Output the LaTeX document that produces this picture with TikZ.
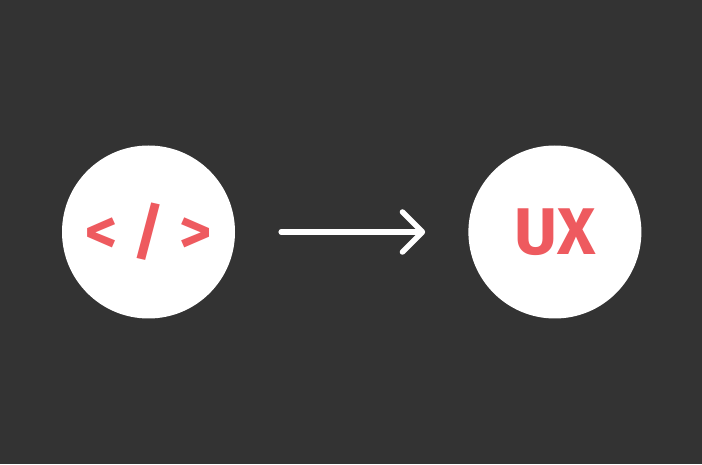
\documentclass[tikz,border=0pt]{standalone}
\usepackage{fontspec}
\setsansfont{Fira Sans}
\usepackage{tikz}
\usetikzlibrary{arrows.meta, positioning}

\definecolor{bgdark}{HTML}{333333}
\definecolor{codered}{HTML}{EE5A5F}

\begin{document}
\begin{tikzpicture}[
    x=1pt, y=1pt,
    node distance=233pt,
    disc/.style={circle, fill=white, minimum size=173pt, inner sep=0pt,
    text=codered, font=\sffamily\bfseries\fontsize{62}{62}\selectfont},
    arrow/.style={-{Straight Barb[length=20pt, width=40pt, round]},
    white, line width=5.5pt, line cap=round, shorten >=43pt,
    shorten <=46pt} ]

    % Background
    \fill[bgdark] (0,0) rectangle (702,464);
    \useasboundingbox (0,0) rectangle (702,464);

    % Nodes for the two circles
    \node[disc] (code) at (148.5,232) {< / >};
    \node[disc, right=of code,
    font=\sffamily\bfseries\fontsize{66}{66}\selectfont] (ux) {UX};

    % Arrow between them
    \draw[arrow] (code) -- (ux);

\end{tikzpicture}
\end{document}
